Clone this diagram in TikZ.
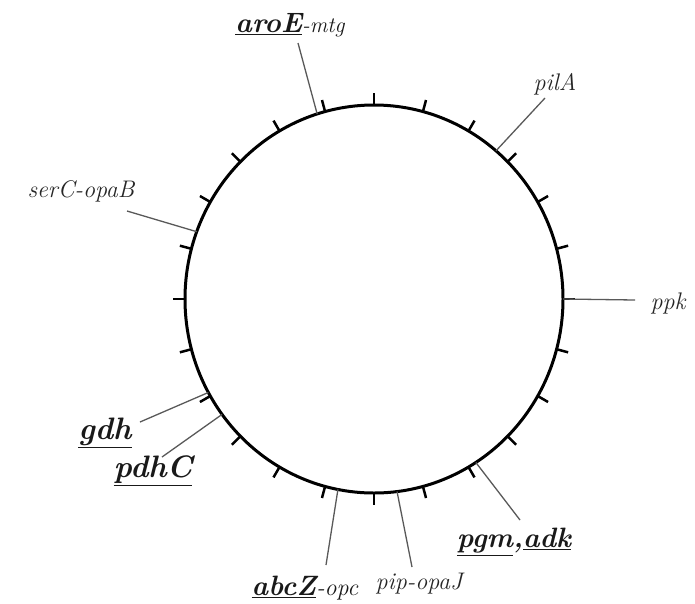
\documentclass[tikz,border=0pt]{standalone}
\usetikzlibrary{calc}
\begin{document}
\begin{tikzpicture}[x=1pt,y=-1pt,
  lbl/.style={text=black!85, font=\fontsize{24}{28}\selectfont\itshape, inner sep=0pt},
  blbl/.style={text=black!90, font=\fontsize{28}{32}\selectfont\bfseries\itshape, inner sep=0pt},
  bigblbl/.style={blbl, font=\fontsize{31}{35}\selectfont\bfseries\itshape},
  lead/.style={draw=black!65, line width=1.3pt},
  ring/.style={line width=3pt},
  ticmark/.style={line width=2.5pt}]
\useasboundingbox (0,0) rectangle (695,603);
\coordinate (c) at (374,299);
\draw[ring] (c) ellipse [x radius=189pt, y radius=194pt];
\foreach \a in {0,15,...,345}{
  \draw[ticmark] ($(c)+(\a:189pt and 194pt)$) -- ($(c)+(\a:201pt and 206pt)$);
}
% labels
\node[blbl] (aroE) at (290,25) {\underline{aroE}{\mdseries\fontsize{22}{26}\selectfont-mtg}};
\node[lbl] (pilA) at (555,84) {pilA};
\node[lbl] (serC) at (81,191) {serC-opaB};
\node[lbl] (ppk) at (668,303) {ppk};
\node[bigblbl] (gdh) at (105,433) {\underline{gdh}};
\node[bigblbl] (pdhC) at (153,471) {\underline{pdhC}};
\node[blbl] (abcZ) at (305,588) {\underline{abcZ}{\mdseries\fontsize{24}{28}\selectfont-opc}};
\node[lbl] (pip) at (419,584) {pip-opaJ};
\node[blbl] (pgm) at (514,542) {\underline{pgm},\underline{adk}};
% lead coordinates
\coordinate (aroEa) at ($(c)+(107.5:189pt and 194pt)$);
\coordinate (aroEb) at (298,43);
\coordinate (pilAa) at ($(c)+(49.8:189pt and 194pt)$);
\coordinate (pilAb) at (545,98);
\coordinate (serCa) at ($(c)+(159.7:189pt and 194pt)$);
\coordinate (serCb) at (127,211);
\coordinate (ppka) at ($(c)+(0:189pt and 194pt)$);
\coordinate (ppkb) at (635,300);
\coordinate (gdha) at ($(c)+(208.8:189pt and 194pt)$);
\coordinate (gdhb) at (140,422);
\coordinate (pdhCa) at ($(c)+(216.5:189pt and 194pt)$);
\coordinate (pdhCb) at (162,457);
\coordinate (abcZa) at ($(c)+(259:189pt and 194pt)$);
\coordinate (abcZb) at (326,565);
\coordinate (pipa) at ($(c)+(277:189pt and 194pt)$);
\coordinate (pipb) at (412,567);
\coordinate (pgma) at ($(c)+(302.6:189pt and 194pt)$);
\coordinate (pgmb) at (520,520);
\foreach \n in {aroE,pilA,serC,ppk,gdh,pdhC,abcZ,pip,pgm}{
  \draw[lead] (\n a) -- (\n b);
}
\end{tikzpicture}
\end{document}
